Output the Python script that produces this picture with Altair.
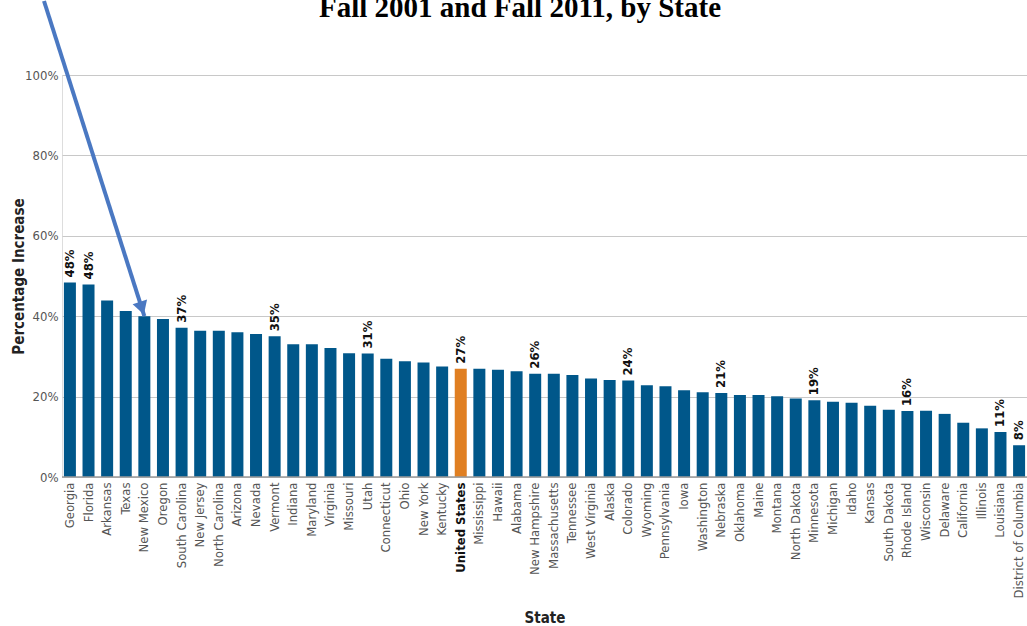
import altair as alt
import pandas as pd

# Percentage increase in enrollment, Fall 2001 to Fall 2011
states = [
    "Georgia", "Florida", "Arkansas", "Texas", "New Mexico", "Oregon",
    "South Carolina", "New Jersey", "North Carolina", "Arizona", "Nevada",
    "Vermont", "Indiana", "Maryland", "Virginia", "Missouri", "Utah",
    "Connecticut", "Ohio", "New York", "Kentucky", "United States",
    "Mississippi", "Hawaii", "Alabama", "New Hampshire", "Massachusetts",
    "Tennessee", "West Virginia", "Alaska", "Colorado", "Wyoming",
    "Pennsylvania", "Iowa", "Washington", "Nebraska", "Oklahoma", "Maine",
    "Montana", "North Dakota", "Minnesota", "Michigan", "Idaho", "Kansas",
    "South Dakota", "Rhode Island", "Wisconsin", "Delaware", "California",
    "Illinois", "Louisiana", "District of Columbia",
]
increase = [
    48.4, 47.9, 43.9, 41.3, 40.0, 39.3,
    37.1, 36.4, 36.4, 36.0, 35.6,
    35.0, 33.0, 33.0, 32.1, 30.8, 30.7,
    29.4, 28.8, 28.5, 27.5, 26.9,
    26.9, 26.7, 26.3, 25.7, 25.7,
    25.4, 24.5, 24.1, 24.0, 22.8,
    22.6, 21.6, 21.1, 20.9, 20.4, 20.4,
    20.1, 19.5, 19.1, 18.7, 18.5, 17.7,
    16.7, 16.4, 16.5, 15.7, 13.5,
    12.1, 11.2, 7.9,
]
labeled = [
    "Georgia", "Florida", "South Carolina", "Vermont", "Utah",
    "United States", "New Hampshire", "Colorado", "Nebraska", "Minnesota",
    "Rhode Island", "Louisiana", "District of Columbia",
]
title_text = "Fall 2001 and Fall 2011, by State"
pointer_state = "New Mexico"

df = pd.DataFrame({"state": states, "pct": increase})
df["label"] = [f"{v:.0f}%" if s in labeled else "" for s, v in zip(states, increase)]
df["national"] = [s == "United States" for s in states]
single = pd.DataFrame({"text": [title_text]})

FONT = "Liberation Sans Narrow, DejaVu Sans Condensed, Arial Narrow, sans-serif"

x_enc = alt.X(
    "state:N", sort=states, title="State",
    scale=alt.Scale(paddingInner=0.35, paddingOuter=0.1),
    axis=alt.Axis(
        labelAngle=-90, labelFont=FONT, labelFontSize=13,
        labelColor=alt.expr("datum.value == 'United States' ? '#111111' : '#555555'"),
        labelFontWeight=alt.expr("datum.value == 'United States' ? 'bold' : 'normal'"),
        labelPadding=5, ticks=False, domain=False,
        titleFont=FONT, titleFontSize=15, titleFontWeight="bold", titleColor="#222222",
        titleY=140, titleBaseline="middle",
    ),
)
y_enc = alt.Y(
    "pct:Q", title="Percentage Increase",
    scale=alt.Scale(domain=[0, 100]),
    axis=alt.Axis(
        values=[0, 20, 40, 60, 80, 100], labelExpr="datum.value + '%'",
        labelFont=FONT, labelFontSize=13, labelColor="#555555",
        labelPadding=4, ticks=False, domain=False,
        gridColor="#c8c8c8", gridWidth=1,
        titleFont=FONT, titleFontSize=15, titleFontWeight="bold", titleColor="#222222",
        titleX=-44, titleY=201, titleAngle=-90, titleBaseline="middle", titleAlign="center",
    ),
)

bars = alt.Chart(df).mark_bar(size=12).encode(
    x=x_enc,
    y=y_enc,
    color=alt.condition("datum.national", alt.value("#e07f22"), alt.value("#00578a")),
)

values = alt.Chart(df).mark_text(
    angle=270, align="left", baseline="middle", dx=5,
    font=FONT, fontSize=13, fontWeight="bold", color="#111111",
).encode(x=alt.X("state:N", sort=states), y="pct:Q", text="label:N")

baseline = alt.Chart(single).mark_rule(color="#9a9a9a", strokeWidth=1.5).encode(
    y=alt.value(402), x=alt.value(0), x2=alt.value(965)
)

pointer = df[df["state"] == pointer_state]
arrow_line = alt.Chart(pointer).mark_rule(color="#4a78c2", strokeWidth=4).encode(
    x=alt.X("state:N", sort=states), y=alt.Y("pct:Q"),
    x2=alt.value(-18), y2=alt.value(-74),
)
arrow_head = alt.Chart(pointer).mark_point(
    shape="triangle-down", filled=True, color="#4a78c2", opacity=1,
    size=230, angle=342, yOffset=-8, xOffset=-2.5,
).encode(x=alt.X("state:N", sort=states), y="pct:Q")

title = alt.Chart(single).mark_text(
    font="Liberation Serif, Times New Roman, serif",
    fontSize=29, fontWeight="bold", color="#000000", align="center", baseline="alphabetic",
).encode(x=alt.value(458), y=alt.value(-58), text="text:N")

chart = alt.layer(bars, baseline, values, arrow_line, arrow_head, title).properties(
    width=965, height=402,
    padding={"left": 62, "top": 75, "right": 0, "bottom": 149},
    autosize=alt.AutoSizeParams(type="none"),
).configure_view(stroke=None).configure(background="#ffffff")

chart.save("out.html", embed_options={"renderer": "svg", "actions": False})
